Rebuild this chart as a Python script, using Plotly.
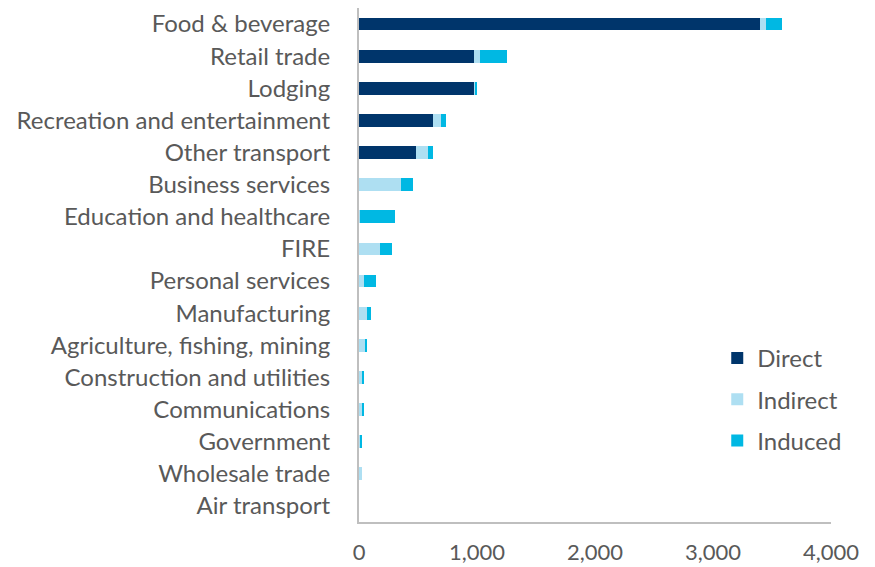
import plotly.graph_objects as go

categories = ["Food & beverage", "Retail trade", "Lodging", "Recreation and entertainment",
              "Other transport", "Business services", "Education and healthcare", "FIRE",
              "Personal services", "Manufacturing", "Agriculture, fishing, mining",
              "Construction and utilities", "Communications", "Government",
              "Wholesale trade", "Air transport"]
direct = [3398, 975, 978, 625, 486, 0, 0, 0, 0, 0, 0, 0, 0, 0, 0, 0]
indirect = [55, 50, 8, 70, 102, 353, 5, 175, 42, 71, 48, 31, 29, 12, 23, 0]
induced = [135, 227, 11, 40, 37, 108, 300, 102, 100, 28, 17, 14, 16, 16, 0, 0]

series = [("Direct", direct, "#00356B"),
          ("Indirect", indirect, "#AEDFF2"),
          ("Induced", induced, "#00B8E3")]

fig = go.Figure()
for name, vals, color in series:
    fig.add_trace(go.Bar(
        y=categories, x=vals, name=name, orientation="h",
        marker=dict(color=color, line=dict(width=0)),
        legendgroup=name,
    ))

font_color = "#595959"
fig.update_layout(
    barmode="stack",
    bargap=0.6,
    width=875, height=567,
    margin=dict(l=351, r=52, t=0, b=53),
    paper_bgcolor="white", plot_bgcolor="white",
    font=dict(family="Lato", size=24, color=font_color),
    legend=dict(x=0.759, y=0.362, xanchor="left", yanchor="top",
                traceorder="grouped", tracegroupgap=7,
                font=dict(size=24, color=font_color),
                itemwidth=30, bgcolor="rgba(0,0,0,0)"),
    showlegend=True,
)
fig.update_xaxes(range=[0, 4000], tickvals=[0, 1000, 2000, 3000, 4000],
                 tickformat=",d", showgrid=False, zeroline=False,
                 showline=True, linecolor="#BFBFBF", linewidth=2,
                 ticks="", ticklabelstandoff=10, tickfont=dict(size=22))
fig.update_yaxes(autorange="reversed", showgrid=False, zeroline=False,
                 showline=True, linecolor="#BFBFBF", linewidth=2,
                 ticks="", ticklabelstandoff=22, tickfont=dict(size=24))

fig.write_html("out.html")
